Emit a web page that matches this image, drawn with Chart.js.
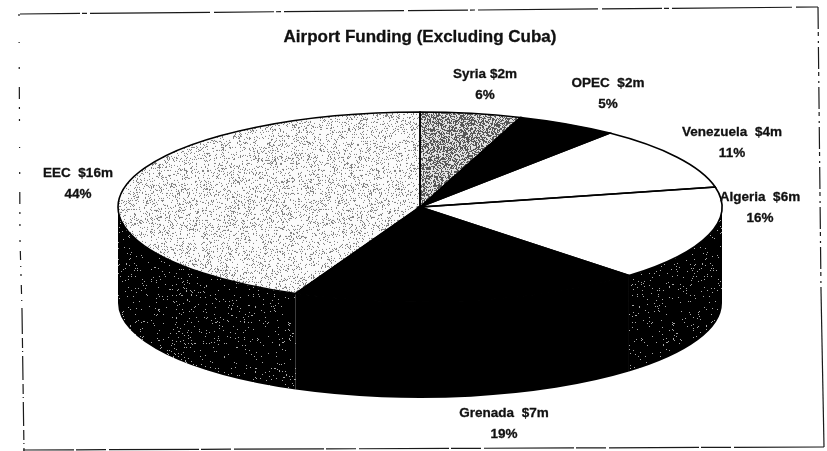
<!DOCTYPE html>
<html lang="en">
  <head>
    <meta charset="UTF-8" />
    <title>Airport Funding (Excluding Cuba)</title>
    <script src="https://cdn.jsdelivr.net/npm/chart.js"></script>
    <style>
      html, body { margin: 0; background: #fff; }
      canvas { display: block; }
    </style>
  </head>
  <body>
    <canvas id="myChart" width="827" height="451"></canvas>

    <script>
      // chart data
      const funders = ["Syria $2m", "OPEC  $2m", "Venezuela  $4m", "Algeria  $6m", "Grenada  $7m", "EEC  $16m"];
      const millions = [2, 2, 4, 6, 7, 16];
      const percents = ["6%", "5%", "11%", "16%", "19%", "44%"];

      // label centres (first line) on the page, same order as funders
      const labelX = [485, 608, 732, 760, 504, 78];
      const labelY = [74, 83, 132, 197, 413, 173];

      // 3d look of the pie
      const squash = 95 / 302;
      const depth = 96;

      // deterministic speckle tile, like the scanned halftone
      function speckle(base, dot, density, seed) {
        const size = 192;
        const tile = document.createElement("canvas");
        tile.width = size;
        tile.height = size;
        const c = tile.getContext("2d");
        c.fillStyle = base;
        c.fillRect(0, 0, size, size);
        c.fillStyle = dot;
        let s = seed;
        for (let y = 0; y < size; y++) {
          for (let x = 0; x < size; x++) {
            s = (s * 1664525 + 1013904223) % 4294967296;
            if (s / 4294967296 < density) c.fillRect(x, y, 1, 1);
          }
        }
        return c.createPattern(tile, "repeat");
      }

      const ctx = document.getElementById("myChart").getContext("2d");

      // top face is drawn squashed, so its patterns are stretched back
      function topPattern(base, dot, density, seed) {
        const p = speckle(base, dot, density, seed);
        p.setTransform(new DOMMatrix().scale(1, 1 / squash));
        return p;
      }

      const topFill = [
        topPattern("#e4e4e4", "#555555", 0.5, 11),
        "#000000",
        "#ffffff",
        "#ffffff",
        "#000000",
        topPattern("#fbfbfb", "#808080", 0.15, 29),
      ];
      const darkSpeckle = speckle("#000000", "#a8a8a8", 0.035, 47);
      const sideFill = ["#000000", "#000000", darkSpeckle, darkSpeckle, "#000000", darkSpeckle];

      function line(c, x0, y0, x1, y1, dash) {
        c.setLineDash(dash);
        c.beginPath();
        c.moveTo(x0, y0);
        c.lineTo(x1, y1);
        c.stroke();
      }

      const pie3d = {
        id: "pie3d",
        beforeDraw(chart) {
          const c = chart.ctx;
          c.save();
          c.fillStyle = "#ffffff";
          c.fillRect(0, 0, chart.width, chart.height);
          // frame of the scanned page, a bit crooked and broken up
          c.strokeStyle = "#1a1a1a";
          c.lineWidth = 1.2;
          line(c, 20, 14, 818, 7, [60, 2, 5, 3, 120, 4]);
          line(c, 818, 7, 821, 290, [22, 3, 4, 5, 2, 4]);
          line(c, 821, 290, 824, 447, []);
          line(c, 824, 447, 23, 450, [90, 3, 30, 2]);
          line(c, 19, 14, 20, 240, [2, 26, 1, 24, 2, 18, 12, 8, 2, 10]);
          line(c, 20, 240, 22, 310, [2, 9, 9, 6, 1, 7]);
          line(c, 22, 310, 24, 451, [24, 4, 10, 3, 1, 4]);
          c.restore();
        },
        beforeDatasetsDraw(chart) {
          const c = chart.ctx;
          const arcs = chart.getDatasetMeta(0).data;
          c.save();
          // side wall, only the front half shows
          arcs.forEach(function (arc, i) {
            const a0 = Math.max(arc.startAngle, 0);
            const a1 = Math.min(arc.endAngle, Math.PI);
            if (a0 >= a1) return;
            const r = arc.outerRadius;
            c.beginPath();
            c.ellipse(arc.x, arc.y, r, r * squash, 0, a0, a1);
            c.ellipse(arc.x, arc.y + depth, r, r * squash, 0, a1, a0, true);
            c.closePath();
            c.fillStyle = sideFill[i];
            c.fill();
          });
          c.restore();

          const first = arcs[0];
          c.save();
          c.translate(first.x, first.y);
          c.scale(1, squash);
          c.translate(-first.x, -first.y);
        },
        afterDatasetsDraw(chart) {
          const c = chart.ctx;
          c.restore();
          const arcs = chart.getDatasetMeta(0).data;
          c.save();
          c.strokeStyle = "#000000";
          c.lineWidth = 1.6;
          arcs.forEach(function (arc) {
            const r = arc.outerRadius;
            c.beginPath();
            c.moveTo(arc.x, arc.y);
            c.ellipse(arc.x, arc.y, r, r * squash, 0, arc.startAngle, arc.endAngle);
            c.closePath();
            c.stroke();
          });

          // labels, slightly heavier and softer like the scan
          c.fillStyle = "#111111";
          c.strokeStyle = "#111111";
          c.lineWidth = 0.3;
          c.filter = "blur(0.35px)";
          c.textAlign = "center";
          c.textBaseline = "middle";
          c.font = "bold 13.5px 'Liberation Sans'";
          funders.forEach(function (name, i) {
            c.fillText(name, labelX[i], labelY[i]);
            c.strokeText(name, labelX[i], labelY[i]);
            c.fillText(percents[i], labelX[i], labelY[i] + 21.5);
            c.strokeText(percents[i], labelX[i], labelY[i] + 21.5);
          });
          c.font = "bold 17px 'Liberation Sans'";
          c.fillText("Airport Funding (Excluding Cuba)", 420, 37);
          c.strokeText("Airport Funding (Excluding Cuba)", 420, 37);
          c.restore();
        },
      };

      new Chart(ctx, {
        type: "pie",
        data: {
          labels: funders,
          datasets: [
            {
              data: millions,
              backgroundColor: topFill,
              borderWidth: 0,
              clip: false,
            },
          ],
        },
        options: {
          responsive: false,
          animation: false,
          radius: 302,
          layout: { padding: { left: 13, bottom: 37 } },
          plugins: {
            legend: { display: false },
            tooltip: { enabled: false },
          },
        },
        plugins: [pie3d],
      });
    </script>
  </body>
</html>
